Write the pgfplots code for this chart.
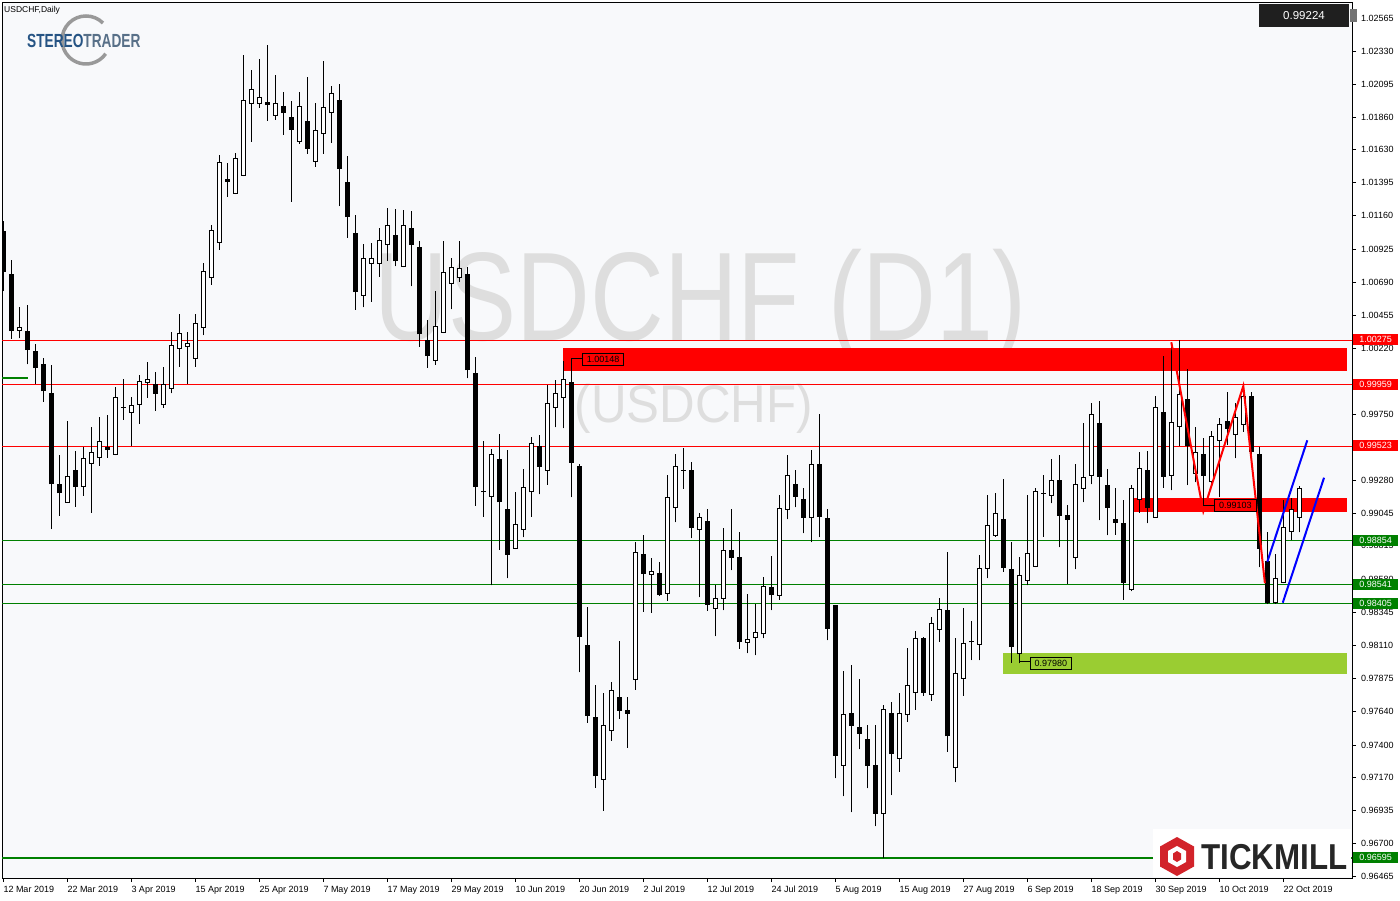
\documentclass[border=0pt]{standalone}
\usepackage{pgfplots}
\pgfplotsset{compat=1.18}
\usepackage{pgfplotstable}
\usepackage{fontspec}
\setmainfont{Liberation Sans}

\definecolor{chartbg}{RGB}{248,249,251}
\definecolor{wmark}{RGB}{222,222,222}
\definecolor{lvgreen}{RGB}{0,128,0}
\definecolor{zonegreen}{RGB}{154,205,50}
\definecolor{stblue}{RGB}{38,84,132}
\definecolor{stgray}{RGB}{88,112,136}
\definecolor{tmred}{RGB}{210,35,42}
\newcommand\tf{\fontsize{9}{10}\selectfont}

% daily candles, x = bar number from 12 Mar 2019
\pgfplotstableread{
i o h l c
0 1.01052 1.01123 1.00626 1.00768
1 1.00745 1.00846 1.00285 1.00344
2 1.00347 1.00510 1.00290 1.00368
3 1.00339 1.00526 1.00105 1.00209
4 1.00199 1.00249 0.99967 1.00081
5 1.00107 1.00148 0.99839 0.99917
6 0.99901 1.00100 0.98934 0.99256
7 0.99254 0.99460 0.99029 0.99192
8 0.99124 0.99702 0.99120 0.99309
9 0.99352 0.99489 0.99093 0.99235
10 0.99235 0.99515 0.99171 0.99437
11 0.99401 0.99659 0.99050 0.99480
12 0.99444 0.99730 0.99384 0.99553
13 0.99515 0.99745 0.99441 0.99498
14 0.99465 0.99941 0.99460 0.99870
15 0.99800 0.99998 0.99711 0.99799
16 0.99764 0.99870 0.99526 0.99814
17 0.99821 1.00029 0.99683 0.99984
18 0.99977 1.00119 0.99868 0.99998
19 0.99963 1.00048 0.99775 0.99899
20 0.99821 1.00084 0.99796 0.99963
21 0.99934 1.00335 0.99899 1.00240
22 1.00219 1.00460 1.00088 1.00325
23 1.00233 1.00335 0.99967 1.00254
24 1.00148 1.00460 1.00088 1.00396
25 1.00368 1.00825 1.00313 1.00766
26 1.00723 1.01095 1.00669 1.01057
27 1.00972 1.01592 1.00919 1.01541
28 1.01420 1.01536 1.01296 1.01403
29 1.01320 1.01607 1.01315 1.01569
30 1.01448 1.02303 1.01443 1.01981
31 1.01960 1.02197 1.01687 1.02059
32 1.01960 1.02275 1.01929 1.02003
33 1.01967 1.02374 1.01836 1.01950
34 1.01875 1.02161 1.01843 1.01960
35 1.01934 1.02040 1.01737 1.01893
36 1.01862 1.01976 1.01260 1.01775
37 1.01687 1.02040 1.01673 1.01938
38 1.01832 1.02147 1.01602 1.01640
39 1.01548 1.01962 1.01509 1.01768
40 1.01747 1.02260 1.01602 1.01931
41 1.01896 1.02083 1.01680 1.02031
42 1.01983 1.02097 1.01230 1.01495
43 1.01400 1.01585 1.01005 1.01154
44 1.01036 1.01166 1.00493 1.00621
45 1.00595 1.00960 1.00510 1.00858
46 1.00823 1.00967 1.00550 1.00858
47 1.00823 1.01074 1.00728 1.00986
48 1.00958 1.01214 1.00841 1.01093
49 1.01022 1.01207 1.00801 1.00841
50 1.00801 1.01199 1.00796 1.01093
51 1.01071 1.01194 1.00659 1.00958
52 1.00936 1.00979 1.00230 1.00322
53 1.00273 1.00418 1.00081 1.00166
54 1.00133 1.00624 1.00102 1.00375
55 1.00332 1.00981 1.00327 1.00759
56 1.00681 1.00860 1.00496 1.00794
57 1.00723 1.00981 1.00692 1.00787
58 1.00745 1.00794 1.00005 1.00066
59 1.00041 1.00155 0.99100 0.99235
60 0.99199 0.99558 0.99022 0.99198
61 0.99167 0.99501 0.98534 0.99465
62 0.99430 0.99607 0.98787 0.99128
63 0.99074 0.99494 0.98584 0.98755
64 0.98797 0.99199 0.98792 0.98968
65 0.98932 0.99361 0.98875 0.99231
66 0.99199 0.99588 0.99022 0.99543
67 0.99522 0.99600 0.99181 0.99380
68 0.99352 0.99956 0.99249 0.99828
69 0.99799 0.99993 0.99657 0.99899
70 0.99870 1.00128 0.99650 0.99998
71 0.99977 1.00148 0.99160 0.99408
72 0.99382 0.99394 0.97916 0.98169
73 0.98110 0.98378 0.97558 0.97610
74 0.97598 0.97826 0.97096 0.97181
75 0.97155 0.97767 0.96932 0.97541
76 0.97501 0.97845 0.97430 0.97788
77 0.97740 0.98138 0.97586 0.97646
78 0.97646 0.97738 0.97380 0.97625
79 0.97866 0.98840 0.97792 0.98769
80 0.98755 0.98892 0.98347 0.98617
81 0.98612 0.98726 0.98340 0.98634
82 0.98620 0.98698 0.98460 0.98468
83 0.98477 0.99316 0.98425 0.99160
84 0.99089 0.99465 0.98982 0.99380
85 0.99352 0.99510 0.99221 0.99351
86 0.99352 0.99408 0.98868 0.98947
87 0.98932 0.99046 0.98449 0.99018
88 0.98989 0.99074 0.98354 0.98399
89 0.98371 0.98534 0.98172 0.98442
90 0.98442 0.98939 0.98357 0.98783
91 0.98783 0.99074 0.98641 0.98733
92 0.98733 0.98913 0.98084 0.98136
93 0.98129 0.98472 0.98051 0.98151
94 0.98165 0.98404 0.98037 0.98200
95 0.98190 0.98591 0.98158 0.98527
96 0.98520 0.98743 0.98357 0.98468
97 0.98463 0.99176 0.98432 0.99082
98 0.99074 0.99460 0.99003 0.99316
99 0.99252 0.99354 0.99089 0.99167
100 0.99146 0.99226 0.98904 0.99018
101 0.99018 0.99494 0.98840 0.99394
102 0.99394 0.99752 0.98875 0.99025
103 0.99010 0.99074 0.98143 0.98229
104 0.98394 0.98396 0.97163 0.97326
105 0.97255 0.97923 0.97035 0.97618
106 0.97625 0.97968 0.96921 0.97539
107 0.97525 0.97866 0.97369 0.97482
108 0.97440 0.97539 0.97092 0.97255
109 0.97255 0.97539 0.96822 0.96914
110 0.96914 0.97686 0.96595 0.97653
111 0.97625 0.97703 0.97044 0.97338
112 0.97305 0.97767 0.97210 0.97625
113 0.97618 0.98089 0.97565 0.97824
114 0.97774 0.98210 0.97650 0.98158
115 0.98158 0.98165 0.97750 0.97771
116 0.97760 0.98307 0.97714 0.98264
117 0.98222 0.98442 0.98133 0.98364
118 0.98357 0.98769 0.97352 0.97465
119 0.97241 0.98158 0.97134 0.97909
120 0.97873 0.98371 0.97750 0.98122
121 0.98133 0.98281 0.98003 0.98132
122 0.98115 0.98750 0.98001 0.98655
123 0.98655 0.99176 0.98584 0.98961
124 0.98890 0.99188 0.98880 0.99046
125 0.99003 0.99288 0.98631 0.98662
126 0.98650 0.98840 0.97985 0.98098
127 0.98051 0.98733 0.97980 0.98605
128 0.98570 0.99174 0.98534 0.98762
129 0.98669 0.99224 0.98664 0.99202
130 0.99188 0.99316 0.98880 0.99187
131 0.99174 0.99430 0.99117 0.99281
132 0.99281 0.99458 0.98804 0.99032
133 0.99032 0.99103 0.98546 0.99003
134 0.98733 0.99394 0.98648 0.99252
135 0.99224 0.99686 0.99124 0.99302
136 0.99316 0.99828 0.99252 0.99750
137 0.99686 0.99842 0.98996 0.99309
138 0.99245 0.99359 0.98890 0.99089
139 0.99003 0.99224 0.98894 0.98982
140 0.98975 0.99141 0.98432 0.98556
141 0.98506 0.99245 0.98492 0.99221
142 0.99146 0.99480 0.99050 0.99366
143 0.99347 0.99487 0.98975 0.99089
144 0.99018 0.99880 0.99013 0.99799
145 0.99764 1.00162 0.99228 0.99309
146 0.99316 1.00262 0.99209 0.99693
147 0.99664 1.00275 0.99522 0.99892
148 0.99856 1.00072 0.99247 0.99529
149 0.99330 0.99657 0.99266 0.99480
150 0.99465 0.99579 0.99103 0.99316
151 0.99273 0.99629 0.99233 0.99593
152 0.99565 0.99721 0.99162 0.99674
153 0.99702 0.99906 0.99531 0.99650
154 0.99607 0.99828 0.99437 0.99728
155 0.99679 0.99951 0.99626 0.99878
156 0.99873 0.99906 0.99446 0.99484
157 0.99465 0.99515 0.98662 0.98797
158 0.98705 0.98911 0.98405 0.98414
159 0.98410 0.98755 0.98405 0.98584
160 0.98556 0.99138 0.98549 0.98947
161 0.98918 0.99153 0.98854 0.99074
162 0.99018 0.99238 0.98911 0.99224
}\candles

\pgfplotsset{candle part/.style={only marks, mark size=0pt, mark options={draw=none, fill=none},
  error bars/.cd, y dir=plus, y explicit, error mark=none}}

\begin{document}
\begin{tikzpicture}[x=1pt,y=1pt]
\useasboundingbox (0,0) rectangle (1400,900);
% page and chart background, watermark sits under the candles
\fill[white] (0,0) rectangle (1400,900);
\fill[chartbg] (2,22) rectangle (1352,898);
\begin{scope}[y=-1pt, shift={(0pt,900pt)}]
  \node[text=wmark, font=\fontsize{126}{126}\selectfont, xscale=0.81, anchor=base] at (701,341) {USDCHF (D1)};
  \node[text=wmark, font=\fontsize{53}{53}\selectfont, xscale=0.93, anchor=base] at (694,423) {(USDCHF)};
\end{scope}

\begin{axis}[
  at={(2pt,22pt)}, anchor=south west,
  scale only axis, width=1350pt, height=876pt,
  xmin=-0.1625, xmax=168.5875, ymin=0.964543, ymax=1.026801,
  axis line style={black, line width=0.8pt},
  clip mode=individual,
  tick align=outside, major tick length=4pt,
  tick style={black, line width=0.8pt},
  xtick pos=left, ytick pos=right, yticklabel pos=right,
  xtick={0,8,...,160},
  xticklabels={12 Mar 2019,22 Mar 2019,3 Apr 2019,15 Apr 2019,25 Apr 2019,7 May 2019,17 May 2019,29 May 2019,10 Jun 2019,20 Jun 2019,2 Jul 2019,12 Jul 2019,24 Jul 2019,5 Aug 2019,15 Aug 2019,27 Aug 2019,6 Sep 2019,18 Sep 2019,30 Sep 2019,10 Oct 2019,22 Oct 2019},
  xticklabel style={anchor=north west, inner sep=0pt, yshift=-4pt, font=\tf},
  ytick={1.02565,1.0233,1.02095,1.0186,1.0163,1.01395,1.0116,1.00925,1.0069,1.00455,1.0022,0.9975,0.9928,0.99045,0.98815,0.9858,0.98345,0.9811,0.97875,0.9764,0.974,0.9717,0.96935,0.967,0.96465},
  yticklabels={1.02565,1.02330,1.02095,1.01860,1.01630,1.01395,1.01160,1.00925,1.00690,1.00455,1.00220,0.99750,0.99280,0.99045,0.98815,0.98580,0.98345,0.98110,0.97875,0.97640,0.97400,0.97170,0.96935,0.96700,0.96465},
  yticklabel style={anchor=west, inner sep=0pt, xshift=5pt, font=\tf},
]
% zones drawn behind the candles
\addplot[fill=zonegreen, draw=none] coordinates {(124.93,0.98053) (167.96,0.98053) (167.96,0.97902) (124.93,0.97902)} --cycle;
\addplot[fill=red, draw=none] coordinates {(69.93,1.00219) (167.96,1.00219) (167.96,1.00059) (69.93,1.00059)} --cycle;
\addplot[fill=red, draw=none] coordinates {(141.25,0.99155) (167.96,0.99155) (167.96,0.99057) (141.25,0.99057)} --cycle;

% horizontal levels
\addplot[red, line width=1pt] coordinates {(-1,1.00275) (170,1.00275)};
\addplot[red, line width=1pt] coordinates {(-1,0.99959) (170,0.99959)};
\addplot[red, line width=1pt] coordinates {(-1,0.99523) (170,0.99523)};
\addplot[lvgreen, line width=1pt] coordinates {(-1,0.98854) (170,0.98854)};
\addplot[lvgreen, line width=1pt] coordinates {(-1,0.98541) (170,0.98541)};
\addplot[lvgreen, line width=1pt] coordinates {(-1,0.98405) (170,0.98405)};
\addplot[lvgreen, line width=2pt] coordinates {(-1,0.96595) (170,0.96595)};
\addplot[lvgreen, line width=2pt] coordinates {(-1,1.00008) (3.09,1.00008)};

% wicks
\addplot[candle part, error bar style={draw=black, line width=1pt}]
  table[x=i, y=l, y error plus expr=\thisrow{h}-\thisrow{l}] {\candles};
% bodies: black outline / bear body, then white inside of bull bodies
\addplot[candle part, error bar style={draw=black, line width=5pt}]
  table[x=i, y expr={min(\thisrow{o},\thisrow{c})-0.0000355},
        y error plus expr={abs(\thisrow{c}-\thisrow{o})+0.000071}] {\candles};
\addplot[candle part, error bar style={draw=white, line width=3pt}]
  table[x=i, y expr={\thisrow{o}+0.0000355},
        y error plus expr={max(\thisrow{c}-\thisrow{o}-0.000071,0)}] {\candles};

% trend drawings
\addplot[red, line width=2pt] coordinates {(146,1.00262) (150,0.99060) (155,0.99951) (157.7,0.98549)};
\addplot[blue, line width=2pt] coordinates {(158.0,0.98702) (163.0,0.99565)};
\addplot[blue, line width=2pt] coordinates {(159.93,0.98411) (165.09,0.99299)};
\end{axis}

% StereoTrader ring (normal orientation)
\draw[black!40, line width=3.5pt] ({86+24*cos(45)},{860+24*sin(45)}) arc[start angle=45, end angle=325, radius=24];

% labels and logos, in picture pixels from the top left
\begin{scope}[y=-1pt, shift={(0pt,900pt)}]
  \node[anchor=west, inner sep=0pt, font=\fontsize{8.5}{10}\selectfont] at (4,10) {USDCHF,Daily};

  % price labels on the chart
  \draw[black, line width=1pt] (571.3,358.3) -- (582.3,358.3);
  \node[draw=black, line width=0.8pt, anchor=west, minimum width=41pt, minimum height=12pt, inner sep=0pt, font=\tf] at (582.3,359.2) {1.00148};
  \draw[black, line width=1pt] (1203.3,505.3) -- (1214,505.3);
  \node[draw=black, line width=0.8pt, anchor=west, minimum width=42pt, minimum height=12pt, inner sep=0pt, font=\tf] at (1214,505.5) {0.99103};
  \draw[black, line width=1pt] (1019.3,661.7) -- (1030,661.7);
  \node[draw=black, line width=0.8pt, anchor=west, minimum width=41pt, minimum height=12pt, inner sep=0pt, font=\tf] at (1030,663.6) {0.97980};

  % level tags on the price scale
  \foreach \yy/\col/\txt in {339.5/red/1.00275, 384.5/red/0.99959, 445.5/red/0.99523, 540.2/lvgreen/0.98854, 584.3/lvgreen/0.98541, 603.2/lvgreen/0.98405, 857.3/lvgreen/0.96595}
    \node[fill=\col, text=white, anchor=west, minimum width=45pt, minimum height=11pt, inner sep=0pt, font=\tf] at (1353,\yy) {\txt};

  % current price box
  \node[fill=black!88, text=white, minimum width=90pt, minimum height=23pt, inner sep=0pt, font=\fontsize{11.5}{12}\selectfont] at (1304,15.5) {0.99224};
  \fill[black!55] (1350,9) rectangle (1357,22);

  % StereoTrader wordmark
  \node[anchor=west, inner sep=0pt, font=\bfseries\fontsize{19}{19}\selectfont, xscale=0.72] at (27,41) {\textcolor{stblue}{STEREO}\textcolor{stgray}{TRADER}};

  % Tickmill logo
  \fill[white] (1153,829) rectangle (1351,877);
  \fill[tmred] (1177,837) -- (1194,846.5) -- (1194,866.5) -- (1177,876) -- (1160,866.5) -- (1160,846.5) -- cycle;
  \fill[white] (1177,846) -- (1186,851) -- (1186,862) -- (1177,867) -- (1168,862) -- (1168,851) -- cycle;
  \fill[tmred] (1177,851) -- (1181,853.5) -- (1181,859.5) -- (1177,862) -- (1173,859.5) -- (1173,853.5) -- cycle;
  \node[anchor=west, inner sep=0pt, font=\bfseries\fontsize{36}{36}\selectfont, xscale=0.87, text=black!85] at (1201,857) {TICKMILL};
\end{scope}
\end{tikzpicture}
\end{document}
